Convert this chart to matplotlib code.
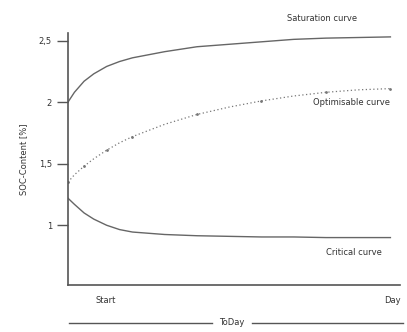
import numpy as np
import matplotlib.pyplot as plt

# (x: fraction of the time span, y: SOC content)
t_pts = [0.0, 0.02, 0.05, 0.08, 0.12, 0.16, 0.2, 0.3, 0.4, 0.5, 0.6, 0.7, 0.8, 0.9, 1.0]
saturation = [2.00, 2.08, 2.17, 2.23, 2.29, 2.33, 2.36, 2.41, 2.45, 2.47, 2.49, 2.51, 2.52, 2.525, 2.53]
optimisable = [1.35, 1.41, 1.48, 1.54, 1.61, 1.67, 1.72, 1.82, 1.90, 1.96, 2.01, 2.05, 2.08, 2.10, 2.11]
critical = [1.22, 1.17, 1.10, 1.05, 1.00, 0.965, 0.945, 0.925, 0.915, 0.91, 0.905, 0.905, 0.90, 0.90, 0.90]

y_ticks = [1.0, 1.5, 2.0, 2.5]
y_ticklabels = ["1", "1,5", "2", "2,5"]

fig = plt.figure(figsize=(4.07, 3.32), dpi=100)
ax = fig.add_axes([0.167, 0.142, 0.816, 0.758])

col = "#555555"
ax.plot(t_pts, saturation, color="#666666", lw=1.0)
ax.plot(t_pts, optimisable, color="#777777", lw=0.9, ls=(0, (1, 2)),
        marker='.', markersize=2, markevery=2)
ax.plot(t_pts, critical, color="#666666", lw=1.0)

ax.set_xlim(0, 1.03)
ax.set_ylim(0.516, 2.56)
ax.spines['top'].set_visible(False)
ax.spines['right'].set_visible(False)
for s in ['left', 'bottom']:
    ax.spines[s].set_color(col)
    ax.spines[s].set_linewidth(1.2)

ax.set_xticks([])
ax.set_yticks(y_ticks)
ax.set_yticklabels(y_ticklabels, fontsize=6, color="#333333")
ax.tick_params(axis='y', length=8, color=col, width=1)
ax.set_ylabel("SOC-Content [%]", fontsize=6, color="#333333", labelpad=8)

ax.text(0.68, 2.68, "Saturation curve", fontsize=6, color="#333333",
        ha='left', va='center', clip_on=False)
ax.text(0.76, 2.0, "Optimisable curve", fontsize=6, color="#333333",
        ha='left', va='center')
ax.text(0.80, 0.78, "Critical curve", fontsize=6, color="#333333",
        ha='left', va='center')

fig.text(0.26, 0.095, "Start", fontsize=6, color="#333333", ha='center', va='center')
fig.text(0.965, 0.095, "Day", fontsize=6, color="#333333", ha='center', va='center')
fig.text(0.57, 0.028, "ToDay", fontsize=6, color="#333333", ha='center', va='center')
fig.add_artist(plt.Line2D([0.17, 0.52], [0.028, 0.028], color=col, lw=1))
fig.add_artist(plt.Line2D([0.62, 0.99], [0.028, 0.028], color=col, lw=1))

fig.savefig("out.png", dpi=100)
